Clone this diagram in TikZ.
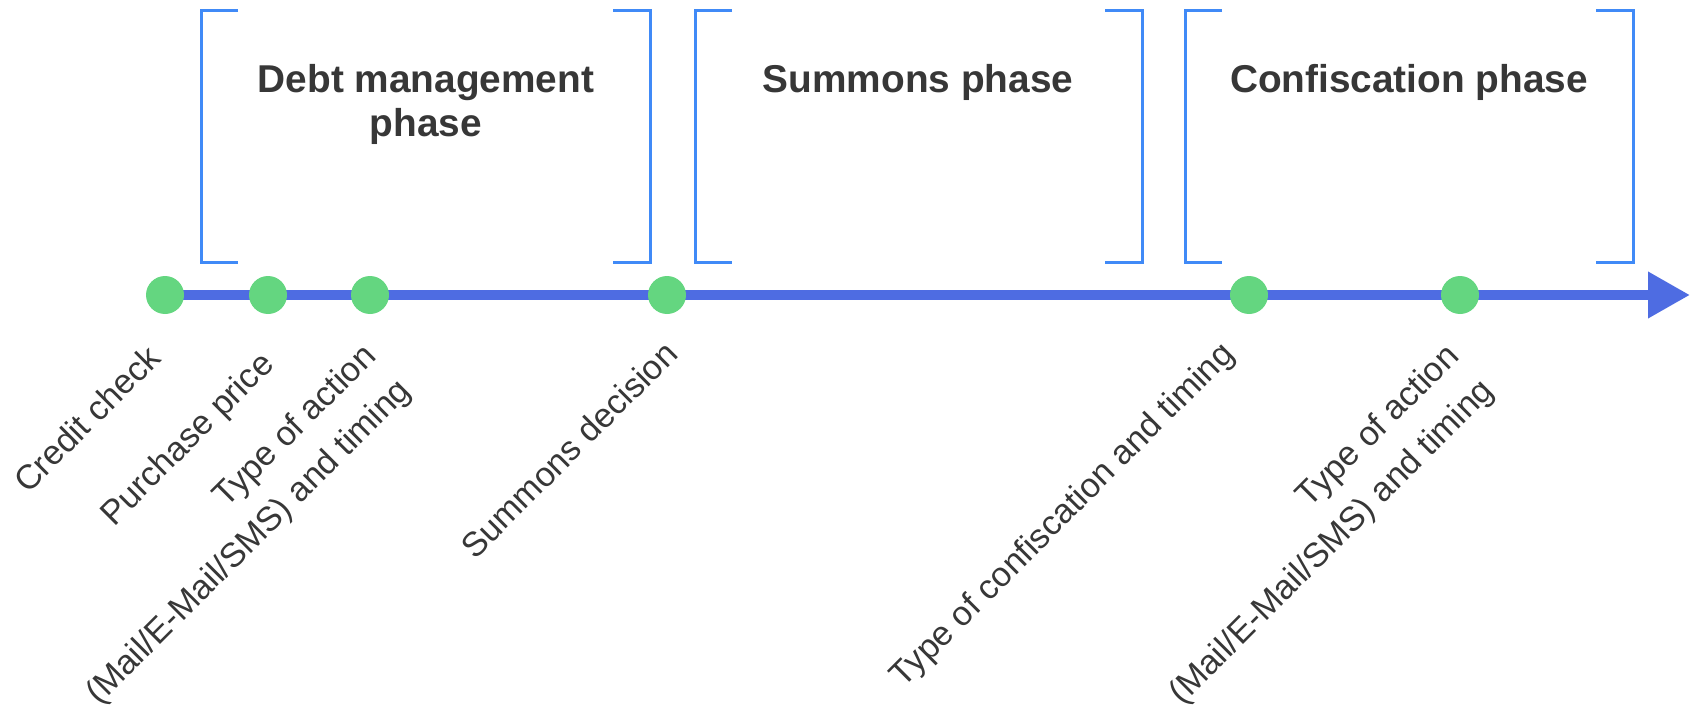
\documentclass[tikz,border=0pt]{standalone}
\usepackage{fontspec}
\setmainfont{Liberation Sans}
\usetikzlibrary{arrows.meta}
\definecolor{bracketblue}{RGB}{64,138,247}
\definecolor{axisblue}{RGB}{78,108,226}
\definecolor{dotgreen}{RGB}{100,214,128}
\definecolor{textgray}{RGB}{55,55,55}
\begin{document}
\begin{tikzpicture}[x=0.5pt, y=-0.5pt, line join=miter,
		phase/.style={draw=bracketblue, line width=1.5pt},
		axis/.style={draw=axisblue, line width=5pt, -{Triangle[length=21pt,width=22pt]}},
		event/.style={circle, fill=dotgreen, minimum size=19pt, inner sep=0pt},
		title/.style={anchor=north, align=center, inner sep=0pt, text=textgray, font=\fontsize{19.4}{22}\selectfont\bfseries},
		lab/.style={anchor=north east, rotate=45, align=right, inner sep=0pt, text=textgray, font=\fontsize{17.1}{24.5}\selectfont}]
	\useasboundingbox (0,0) rectangle (1708,722);
	\foreach \l/\r in {201/650, 695/1142, 1185/1633}{
		\draw[phase] (\l+37,11)--(\l,11)--(\l,262)--(\l+37,262);
		\draw[phase] (\r-37,11)--(\r,11)--(\r,262)--(\r-37,262);
	}
	\node[title] (debt) at (426,64) {Debt management\\phase};
	\node[title] (summons) at (918,64) {Summons phase};
	\node[title] (confisc) at (1409,64) {Confiscation phase};
	\coordinate (start) at (165,295);
	\coordinate (tip) at (1690,295);
	\draw[axis] (start)--(tip);
	\node[event] (credit) at (165,295) {};
	\node[event] (price) at (268,295) {};
	\node[event] (action) at (370,295) {};
	\node[event] (decision) at (667,295) {};
	\node[event] (confiscation) at (1249,295) {};
	\node[event] (reminder) at (1460,295) {};
	\node[lab] (creditlab) at (145,342) {Credit check};
	\node[lab] (pricelab) at (258,348) {Purchase price};
	\node[lab] (actionlab) at (360,340) {Type of action\\(Mail/E-Mail/SMS) and timing};
	\node[lab] (decisionlab) at (662,338) {Summons decision};
	\node[lab] (confiscationlab) at (1218,338) {Type of confiscation and timing};
	\node[lab] (reminderlab) at (1443,340) {Type of action\\(Mail/E-Mail/SMS) and timing};
\end{tikzpicture}
\end{document}
